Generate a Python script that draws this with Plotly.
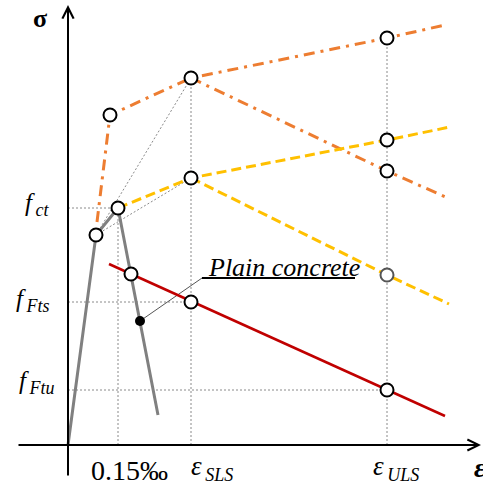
import plotly.graph_objects as go

# Characteristic strains (horizontal positions)
eps_peak = 50      # 0.15 ‰
eps_sls = 123
eps_uls = 319

# Characteristic stresses
f_ct = 237
f_fts = 143
f_ftu = 55

# Plain concrete: elastic rise, peak and softening branch
plain_x = [0, 28, 50, 90]
plain_y = [0, 210, 237, 30]
plain_circle_x = [28, 50]
plain_circle_y = [210, 237]
plain_dot_x = [72]
plain_dot_y = [124]

# Linear residual law (red)
red_x = [41, 377]
red_y = [181, 29]
red_circle_x = [63, eps_sls, eps_uls]
red_circle_y = [171, f_fts, f_ftu]

# Dashed laws (yellow): hardening and softening branches
yel_up_x = [50, 123, 319, 382]
yel_up_y = [237, 267, 305, 318]
yel_down_x = [123, 319, 381]
yel_down_y = [267, 170, 141]
yel_circle_x = [123, 319]
yel_circle_y = [267, 305]
yel_faded_circle_x = [319]
yel_faded_circle_y = [170]

# Dash-dot laws (orange): hardening and softening branches
org_up_x = [29, 42, 123, 319, 377]
org_up_y = [223, 330, 367, 407, 420]
org_down_x = [123, 319, 382]
org_down_y = [367, 274, 246]
org_circle_x = [42, 123, 319, 319]
org_circle_y = [330, 367, 407, 274]

# Reference guide lines (dotted)
guides = [
    ([eps_peak, eps_peak], [0, f_ct]),
    ([eps_sls, eps_sls], [0, 367]),
    ([eps_uls, eps_uls], [0, 407]),
    ([0, eps_peak], [f_ct, f_ct]),
    ([0, eps_sls], [f_fts, f_fts]),
    ([0, eps_uls], [f_ftu, f_ftu]),
    ([28, 123], [210, 367]),
    ([28, 123], [210, 267]),
]

# Label leader for the plain concrete curve
leader_x = [72, 134, 287]
leader_y = [124, 167, 167]

GRAY = "#808080"
RED = "#C00000"
YELLOW = "#FFC000"
ORANGE = "#ED7D31"
SERIF = "Liberation Serif"

fig = go.Figure()

for gx, gy in guides:
    fig.add_trace(go.Scatter(x=gx, y=gy, mode="lines",
                             line=dict(color="#8a8a8a", width=1, dash="2px,2px")))

fig.add_trace(go.Scatter(x=leader_x, y=leader_y, mode="lines",
                         line=dict(color="#555555", width=1)))
fig.add_trace(go.Scatter(x=leader_x[1:], y=leader_y[1:], mode="lines",
                         line=dict(color="black", width=2)))

fig.add_trace(go.Scatter(x=org_up_x, y=org_up_y, mode="lines",
                         line=dict(color=ORANGE, width=3, dash="11px,6px,3px,6px")))
fig.add_trace(go.Scatter(x=org_down_x, y=org_down_y, mode="lines",
                         line=dict(color=ORANGE, width=3, dash="11px,6px,3px,6px")))
fig.add_trace(go.Scatter(x=yel_up_x, y=yel_up_y, mode="lines",
                         line=dict(color=YELLOW, width=3, dash="10px,5px")))
fig.add_trace(go.Scatter(x=yel_down_x, y=yel_down_y, mode="lines",
                         line=dict(color=YELLOW, width=3, dash="10px,5px")))
fig.add_trace(go.Scatter(x=red_x, y=red_y, mode="lines",
                         line=dict(color=RED, width=2.5)))
fig.add_trace(go.Scatter(x=plain_x, y=plain_y, mode="lines",
                         line=dict(color=GRAY, width=3)))

circle_marker = dict(symbol="circle", size=13, color="white",
                     line=dict(color="black", width=2))
for cx, cy in [(plain_circle_x, plain_circle_y), (red_circle_x, red_circle_y),
               (yel_circle_x, yel_circle_y), (org_circle_x, org_circle_y)]:
    fig.add_trace(go.Scatter(x=cx, y=cy, mode="markers", marker=circle_marker))
fig.add_trace(go.Scatter(x=yel_faded_circle_x, y=yel_faded_circle_y, mode="markers",
                         marker=dict(symbol="circle", size=13, color="white",
                                     line=dict(color="#555555", width=2))))

fig.add_trace(go.Scatter(x=plain_dot_x, y=plain_dot_y, mode="markers",
                         marker=dict(symbol="circle", size=10, color="black")))

# Axes with arrowheads
fig.add_annotation(x=413, y=0, ax=-51, ay=0, xref="x", yref="y", axref="x", ayref="y",
                   text="", showarrow=True, arrowhead=5, arrowsize=1.1, arrowwidth=2,
                   arrowcolor="black", standoff=0)
fig.add_annotation(x=0, y=440, ax=0, ay=-32, xref="x", yref="y", axref="x", ayref="y",
                   text="", showarrow=True, arrowhead=5, arrowsize=1.1, arrowwidth=2,
                   arrowcolor="black", standoff=0)


def label(text, x, y, size, xanchor="center", yanchor="middle"):
    fig.add_annotation(x=x, y=y, xref="x", yref="y", text=text, showarrow=False,
                       xanchor=xanchor, yanchor=yanchor,
                       font=dict(family=SERIF, size=size, color="black"))


def with_index(main, index, index_px=18):
    return (f"<i>{main}</i><sub><span style='font-size:{index_px}px'>"
            f"<i>\u2009{index}</i></span></sub>")


label("<b>σ</b>", -28, 427, 26)
label("<b><i>ε</i></b>", 404, -22, 28, xanchor="left")

label(with_index("f", "ct"), -16, 241, 25, xanchor="right")
label(with_index("f", "Fts"), -16, 145, 25, xanchor="right")
label(with_index("f", "Ftu"), -11, 63, 25, xanchor="right")

label("0.15‰", 61, -25, 28)
label(with_index("ε", "SLS"), 121, -23, 27, xanchor="left")
label(with_index("ε", "ULS"), 303, -23, 27, xanchor="left")

label("<i>Plain concrete</i>", 138, 178, 26, xanchor="left")

fig.update_layout(
    width=483, height=488,
    margin=dict(l=0, r=0, t=0, b=0),
    paper_bgcolor="white", plot_bgcolor="white",
    showlegend=False,
    xaxis=dict(range=[-68, 415], visible=False, fixedrange=True),
    yaxis=dict(range=[-43, 445], visible=False, fixedrange=True),
)

fig.write_html("out.html", config={"displayModeBar": False})
